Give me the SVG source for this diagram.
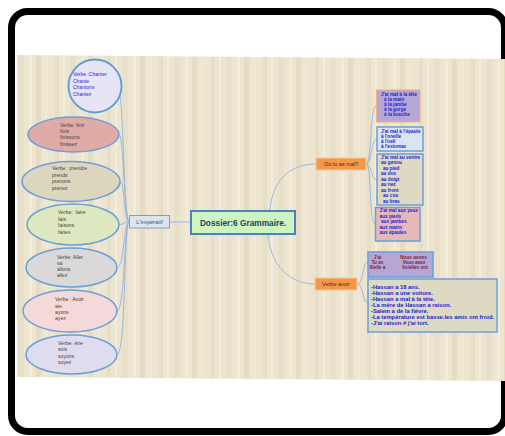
<svg xmlns="http://www.w3.org/2000/svg" width="505" height="436" viewBox="0 0 505 436">
<defs>
<pattern id="wood" width="52" height="10" patternUnits="userSpaceOnUse">
<rect width="52" height="10" fill="#ede5d0"/>
<rect x="3" width="4" height="10" fill="#e7dec6"/>
<rect x="11" width="2" height="10" fill="#f2ede0"/>
<rect x="18" width="6" height="10" fill="#e9e0c9"/>
<rect x="29" width="3" height="10" fill="#f1ebdc"/>
<rect x="36" width="5" height="10" fill="#e6dcc3"/>
<rect x="45" width="3" height="10" fill="#efe8d8"/>
</pattern>
<style>
text{font-family:"Liberation Sans",Arial,sans-serif}
.ell{font-size:5.1px;fill:#444}
.circ{font-size:5px;fill:#2b2be0}
.bb{font-size:4.7px;font-weight:bold;fill:#1c1cd8}
.conj{font-size:4.7px;font-weight:bold;fill:#7b1c3c;text-anchor:middle}
.sent{font-size:5.8px;font-weight:bold;fill:#1c1cd8}
.lbl{font-size:5.5px;fill:#333;text-anchor:middle}
.title{font-size:8.3px;font-weight:bold;fill:#2f3e5c;text-anchor:middle}
.n{stroke:#6a9fd8;stroke-width:1.5}
.orange{fill:#f79646;stroke:#f6c7a4;stroke-width:1}
.conn path{fill:none;stroke:#8eb4e3;stroke-width:0.9}
</style>
</defs>
<rect x="11.5" y="11.5" width="493" height="420" rx="16" fill="#fff" stroke="#000" stroke-width="7"/>
<polygon points="17,55 505,59 505,381 17,377" fill="url(#wood)"/>

<g class="conn" id="connectors">
<path d="M120,94 C124,130 124,215 129,222"/>
<path d="M119,134.5 C124,134.5 124,222 129,222"/>
<path d="M120,181.5 C125,181.5 124,222 129,222"/>
<path d="M119,224.5 C124,224.5 124,222 129,222"/>
<path d="M117,267.5 C124,267.5 124,222 129,222"/>
<path d="M117,311 C125,311 124,222 129,222"/>
<path d="M117,354.5 C126,354.5 124,222 129,222"/>
<path d="M170,222 L191,222"/>
<path d="M270,211 C272,180 290,164 316,164"/>
<path d="M268,234 C270,265 290,284 315,284"/>
<path d="M366,164 C372,164 370,106 376,106"/>
<path d="M366,164 C372,164 371,139 377,139"/>
<path d="M366,164 C372,164 371,180 377,180"/>
<path d="M366,164 C372,164 369,224 375,224"/>
<path d="M357,284 C364,284 362,262 368,262"/>
<path d="M357,284 C364,284 362,303 368,303"/>
</g>

<g id="chanter">
<circle cx="95" cy="86" r="26.5" fill="#e6e4f5" stroke="#5b9bd5" stroke-width="1.8"/>
<text class="circ" x="73" y="76">Verbe :Chanter</text>
<text class="circ" x="73" y="82.7">Chante</text>
<text class="circ" x="73" y="89.4">Chantons</text>
<text class="circ" x="73" y="96">Chantez</text>
</g>
<g id="finir">
<ellipse class="n" cx="73.5" cy="134.5" rx="45.5" ry="17.5" fill="#e0aaa7"/>
<text class="ell" x="60" y="126.7">Verbe: finir</text>
<text class="ell" x="60" y="133">finis</text>
<text class="ell" x="60" y="139.4">finissons</text>
<text class="ell" x="60" y="146">finissez</text>
</g>
<g id="prendre">
<ellipse class="n" cx="71" cy="181.5" rx="49" ry="20" fill="#ddd6bf"/>
<text class="ell" x="52" y="170" xml:space="preserve">Verbe:  prendre</text>
<text class="ell" x="52" y="176.7">prends</text>
<text class="ell" x="52" y="183.4">prenons</text>
<text class="ell" x="52" y="190">prenez</text>
</g>
<g id="faire">
<ellipse class="n" cx="73" cy="224.5" rx="46" ry="20.5" fill="#dde8c0"/>
<text class="ell" x="58" y="214" xml:space="preserve">Verbe:  faire</text>
<text class="ell" x="58" y="220.7">fais</text>
<text class="ell" x="58" y="227.4">faisons</text>
<text class="ell" x="58" y="234">faites</text>
</g>
<g id="aller">
<ellipse class="n" cx="71.5" cy="267.5" rx="45.5" ry="19.5" fill="#d9d9d9"/>
<text class="ell" x="57" y="258.5">Verbe: Aller</text>
<text class="ell" x="57" y="264.7">va</text>
<text class="ell" x="57" y="270.9">allons</text>
<text class="ell" x="57" y="277">allez</text>
</g>
<g id="avoir-imp">
<ellipse class="n" cx="70" cy="311" rx="47" ry="21" fill="#f5d9d9"/>
<text class="ell" x="55" y="301">Verbe : Avoir</text>
<text class="ell" x="55" y="307.5">aie</text>
<text class="ell" x="55" y="314">ayons</text>
<text class="ell" x="55" y="320">ayez</text>
</g>
<g id="etre">
<ellipse class="n" cx="71.5" cy="354.5" rx="45.5" ry="19.5" fill="#e0dcef"/>
<text class="ell" x="58" y="344.5">Verbe: être</text>
<text class="ell" x="58" y="351">sois</text>
<text class="ell" x="58" y="357.5">soyons</text>
<text class="ell" x="58" y="364">soyez</text>
</g>

<g id="imperatif">
<rect x="129.5" y="215.5" width="40" height="12.5" fill="#dbe5f1" stroke="#7ba0cd" stroke-width="1"/>
<text class="lbl" x="149.5" y="223.8" style="font-size:5.8px;fill:#44546a">L'impératif</text>
</g>
<g id="central">
<rect x="191" y="211" width="104" height="23" fill="#ccf5c0" stroke="#4f81bd" stroke-width="2"/>
<text class="title" x="243" y="225.5">Dossier:6 Grammaire.</text>
</g>
<g id="ou-mal">
<rect class="orange" x="316" y="158" width="50" height="12"/>
<text class="lbl" x="341" y="166">Où tu as mal?</text>
</g>
<g id="verbe-avoir">
<rect class="orange" x="315" y="278" width="42" height="12"/>
<text class="lbl" x="336" y="286">Verbe avoir</text>
</g>

<g id="tete">
<rect x="376.5" y="90" width="43.5" height="32" fill="#b4a7d6" stroke="#f4b183" stroke-width="1.2"/>
<text class="bb" x="381" y="95.6">J'ai mal à la tête</text>
<text class="bb" x="384" y="100.8">à la main</text>
<text class="bb" x="384" y="106">à la jambe</text>
<text class="bb" x="384" y="111">à la gorge</text>
<text class="bb" x="384" y="116">à la bouche</text>
</g>
<g id="epaule">
<rect class="n" x="377" y="127" width="46" height="24" fill="#dbe5f1"/>
<text class="bb" x="381" y="132.6">J'ai mal à l'épaule</text>
<text class="bb" x="381" y="138.2">à l'oreille</text>
<text class="bb" x="381" y="143.4">à l'oeil</text>
<text class="bb" x="381" y="148.4">à l'estomac</text>
</g>
<g id="ventre">
<rect class="n" x="377" y="154" width="46" height="51" fill="#ddd9c3"/>
<text class="bb" x="381" y="158.5">J'ai mal au ventre</text>
<text class="bb" x="381" y="164">au genou</text>
<text class="bb" x="383" y="169.5">au pied</text>
<text class="bb" x="381" y="175">au dos</text>
<text class="bb" x="381" y="180.5">au doigt</text>
<text class="bb" x="381" y="186">au nez</text>
<text class="bb" x="381" y="191.5">au front</text>
<text class="bb" x="383" y="197">au cou</text>
<text class="bb" x="383" y="202.5">au bras</text>
</g>
<g id="yeux">
<rect class="n" x="375.5" y="207.5" width="44.5" height="33.5" fill="#e6b9b8"/>
<text class="bb" x="379.5" y="212.3">J'ai mal aux yeux</text>
<text class="bb" x="379.5" y="217.8">aux pieds</text>
<text class="bb" x="381" y="223.3">aux jambes</text>
<text class="bb" x="379.5" y="228.8">aux mains</text>
<text class="bb" x="379.5" y="234.3">aux épaules</text>
</g>
<g id="conjugaison">
<rect class="n" x="368" y="252" width="65" height="25" fill="#b4a7d6"/>
<text class="conj" x="377.5" y="258.7">J'ai</text>
<text class="conj" x="377.5" y="263.7">Tu as</text>
<text class="conj" x="377.5" y="268.7">Il/elle a</text>
<text class="conj" x="413.5" y="258.7">Nous avons</text>
<text class="conj" x="414" y="263.7">Vous avez</text>
<text class="conj" x="415" y="268.7">Ils/elles ont</text>
</g>
<g id="phrases">
<rect class="n" x="368" y="279" width="129" height="53" fill="#ddd9c3"/>
<text class="sent" x="371" y="289">-Hassan a 18 ans.</text>
<text class="sent" x="371" y="295">-Hassan a une voiture.</text>
<text class="sent" x="371" y="301">-Hassan a mal à la tête.</text>
<text class="sent" x="371" y="307">-La mère de Hassan a raison.</text>
<text class="sent" x="371" y="313">-Salem a de la fièvre.</text>
<text class="sent" x="371" y="319">-La température est basse.les amis ont froid.</text>
<text class="sent" x="371" y="325">-J'ai raison # j'ai tort.</text>
</g>
</svg>
